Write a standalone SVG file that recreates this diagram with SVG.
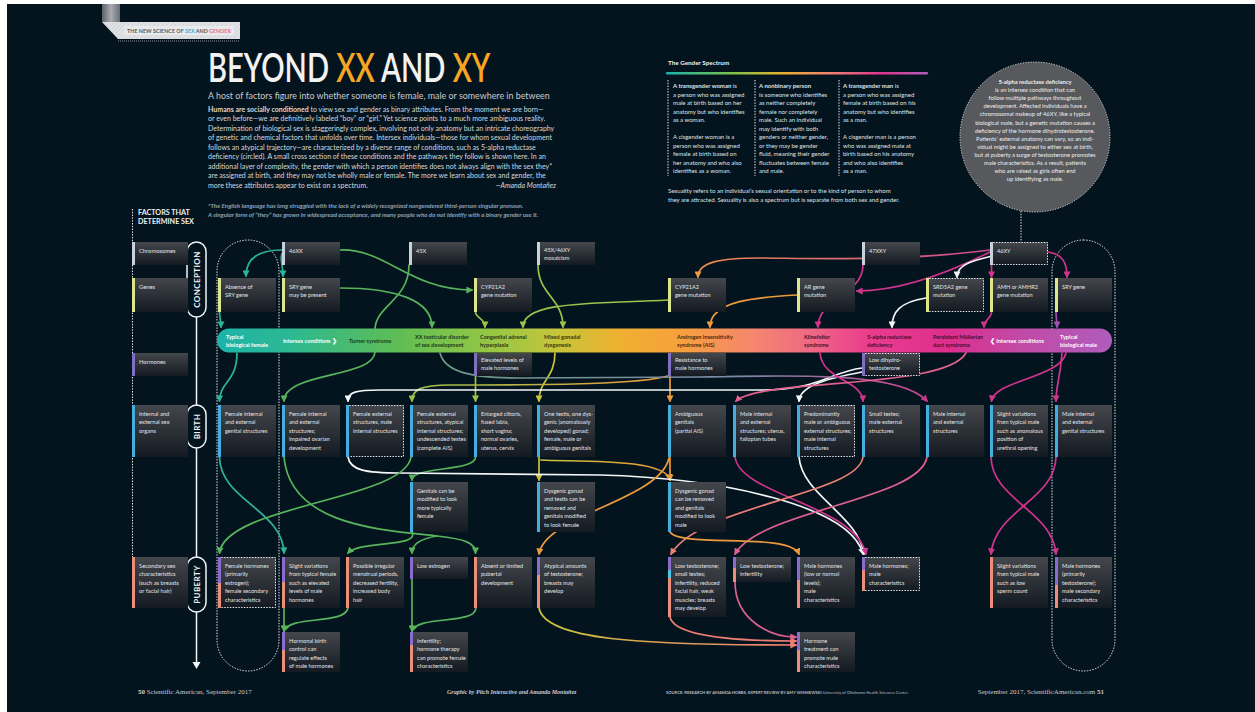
<svg xmlns="http://www.w3.org/2000/svg" width="1255" height="712" viewBox="0 0 1255 712">
<defs>
<linearGradient id="boxg" x1="0" y1="0" x2="0" y2="1"><stop offset="0" stop-color="#44474c"/><stop offset="1" stop-color="#141a22"/></linearGradient>
<linearGradient id="tabg" x1="0" y1="0" x2="1" y2="0"><stop offset="0" stop-color="#5d6168"/><stop offset="0.5" stop-color="#a9adb3"/><stop offset="1" stop-color="#6a6e75"/></linearGradient>
<linearGradient id="spec" x1="217" y1="0" x2="1112" y2="0" gradientUnits="userSpaceOnUse">
<stop offset="0" stop-color="#1db3aa"/><stop offset="0.08" stop-color="#2cb893"/><stop offset="0.2" stop-color="#5ebd55"/><stop offset="0.3" stop-color="#92c645"/><stop offset="0.38" stop-color="#c6c53a"/><stop offset="0.45" stop-color="#efb030"/><stop offset="0.52" stop-color="#f7a03e"/><stop offset="0.6" stop-color="#f4866e"/><stop offset="0.66" stop-color="#ef6a84"/><stop offset="0.73" stop-color="#ea3c8c"/><stop offset="0.82" stop-color="#dc2f8e"/><stop offset="0.9" stop-color="#c04ba6"/><stop offset="1" stop-color="#b05cbc"/>
</linearGradient>
<linearGradient id="rain" x1="666" y1="0" x2="928" y2="0" gradientUnits="userSpaceOnUse">
<stop offset="0" stop-color="#1db3aa"/><stop offset="0.25" stop-color="#7cc24a"/><stop offset="0.45" stop-color="#efb030"/><stop offset="0.65" stop-color="#f07a78"/><stop offset="0.82" stop-color="#e0358c"/><stop offset="1" stop-color="#b05cbc"/>
</linearGradient>
<linearGradient id="gAIS" x1="668" y1="0" x2="412" y2="0" gradientUnits="userSpaceOnUse"><stop offset="0" stop-color="#eb9a3c"/><stop offset="1" stop-color="#98c44a"/></linearGradient>
<linearGradient id="gMix" x1="541" y1="0" x2="670" y2="0" gradientUnits="userSpaceOnUse"><stop offset="0" stop-color="#c9c43a"/><stop offset="1" stop-color="#eb9a3c"/></linearGradient>
<linearGradient id="gXY" x1="990" y1="0" x2="698" y2="0" gradientUnits="userSpaceOnUse"><stop offset="0" stop-color="#c94a92"/><stop offset="1" stop-color="#eb8a50"/></linearGradient>
<linearGradient id="gXX" x1="440" y1="0" x2="927" y2="0" gradientUnits="userSpaceOnUse"><stop offset="0" stop-color="#6f9a86"/><stop offset="0.6" stop-color="#7b8aa6"/><stop offset="1" stop-color="#c8438e"/></linearGradient>
<linearGradient id="gAty" x1="539" y1="0" x2="796" y2="0" gradientUnits="userSpaceOnUse"><stop offset="0" stop-color="#c9c43a"/><stop offset="1" stop-color="#ee7f74"/></linearGradient>
<pattern id="hatch" width="3" height="3" patternUnits="userSpaceOnUse" patternTransform="rotate(45)"><rect width="3" height="3" fill="#e2e3e6"/><line x1="0" y1="0" x2="0" y2="3" stroke="#c4c6ca" stroke-width="1"/></pattern>
<marker id="aT" viewBox="0 0 10 10" refX="8" refY="5" markerWidth="7" markerHeight="7" markerUnits="userSpaceOnUse" orient="auto"><path d="M0,0L10,5L0,10z" fill="#2eb39c"/></marker>
<marker id="aG" viewBox="0 0 10 10" refX="8" refY="5" markerWidth="7" markerHeight="7" markerUnits="userSpaceOnUse" orient="auto"><path d="M0,0L10,5L0,10z" fill="#58b45c"/></marker>
<marker id="aL" viewBox="0 0 10 10" refX="8" refY="5" markerWidth="7" markerHeight="7" markerUnits="userSpaceOnUse" orient="auto"><path d="M0,0L10,5L0,10z" fill="#98c44a"/></marker>
<marker id="aY" viewBox="0 0 10 10" refX="8" refY="5" markerWidth="7" markerHeight="7" markerUnits="userSpaceOnUse" orient="auto"><path d="M0,0L10,5L0,10z" fill="#c9c43a"/></marker>
<marker id="aO" viewBox="0 0 10 10" refX="8" refY="5" markerWidth="7" markerHeight="7" markerUnits="userSpaceOnUse" orient="auto"><path d="M0,0L10,5L0,10z" fill="#eb9a3c"/></marker>
<marker id="aS" viewBox="0 0 10 10" refX="8" refY="5" markerWidth="7" markerHeight="7" markerUnits="userSpaceOnUse" orient="auto"><path d="M0,0L10,5L0,10z" fill="#ee7f74"/></marker>
<marker id="aP" viewBox="0 0 10 10" refX="8" refY="5" markerWidth="7" markerHeight="7" markerUnits="userSpaceOnUse" orient="auto"><path d="M0,0L10,5L0,10z" fill="#e0608e"/></marker>
<marker id="aM" viewBox="0 0 10 10" refX="8" refY="5" markerWidth="7" markerHeight="7" markerUnits="userSpaceOnUse" orient="auto"><path d="M0,0L10,5L0,10z" fill="#d0348c"/></marker>
<marker id="aV" viewBox="0 0 10 10" refX="8" refY="5" markerWidth="7" markerHeight="7" markerUnits="userSpaceOnUse" orient="auto"><path d="M0,0L10,5L0,10z" fill="#a24fb0"/></marker>
<marker id="aW" viewBox="0 0 10 10" refX="8" refY="5" markerWidth="7" markerHeight="7" markerUnits="userSpaceOnUse" orient="auto"><path d="M0,0L10,5L0,10z" fill="#f4f6f8"/></marker>
</defs>
<style>
.f{font-family:Lato,'Open Sans','Liberation Sans',sans-serif}
.t{font-family:Lato,'Open Sans','Liberation Sans',sans-serif;font-size:5.6px;fill:#e2e4e6}
.lb{font-family:Lato,'Open Sans','Liberation Sans',sans-serif;font-size:5.8px;fill:#e2e4e6}
.bt{font-family:Lato,'Open Sans','Liberation Sans',sans-serif;font-size:5.6px;font-weight:700}
.bx{fill:url(#boxg)}
.dot{fill:none;stroke:#e8eef2;stroke-width:1;stroke-dasharray:1.4 1.4}
.bc{fill:#c9d1de}.bg{fill:#dde68a}.bh{fill:#7f70c2}.bo{fill:#45aee0}.bs{fill:#ec8f78}.bp{fill:#8a6ccc}.by{fill:#4cc3e0}
.c{fill:none;stroke-width:1.7;stroke-linecap:round}
.teal{stroke:#2eb39c}.grn{stroke:#58b45c}.lim{stroke:#98c44a}.yel{stroke:#c9c43a}.org{stroke:#eb9a3c}.sal{stroke:#ee7f74}.pnk{stroke:#e0608e}.mag{stroke:#d0348c}.pur{stroke:#a24fb0}.wht{stroke:#f4f6f8}
.gs{font-family:Lato,'Open Sans','Liberation Sans',sans-serif;font-size:6px;fill:#dfe3e6}
.ct{font-family:Lato,'Open Sans','Liberation Sans',sans-serif;font-size:5.75px;fill:#eeeeee;text-anchor:middle}
.cap{fill:#04141f;stroke:#f2f4f6;stroke-width:1.5}
.capt{font-family:Lato,'Open Sans','Liberation Sans',sans-serif;font-size:8px;font-weight:700;fill:#f2f4f6;text-anchor:middle;letter-spacing:0.4px}
</style>
<rect x="0" y="0" width="1255" height="712" fill="#ffffff"/>
<rect x="7" y="4" width="1248" height="708" fill="#04141f"/>

<g id="header">
<rect x="102" y="4" width="18" height="18" fill="url(#tabg)"/>
<polygon points="102,22 240,22 240,39 118,39" fill="url(#hatch)"/>
<line x1="118" y1="41" x2="240" y2="41" stroke="#8a8e94" stroke-width="1" stroke-dasharray="1 1"/>
<rect x="124" y="26" width="110" height="9" fill="#e8e9eb"/>
<text class="f" x="127" y="32.8" font-size="5.4" font-weight="700" fill="#555a60">THE NEW SCIENCE OF <tspan fill="#3ab0d8">SEX</tspan> AND <tspan fill="#e86a8a">GENDER</tspan></text>
<text class="f" transform="translate(208,82) scale(0.71,1)" font-size="41" font-weight="600" fill="#f2f2f2">BEYOND <tspan fill="#f6a623">XX</tspan> AND <tspan fill="#f6a623">XY</tspan></text>
<text class="f" x="208" y="99" font-size="8.9" fill="#c8ccd0">A host of factors figure into whether someone is female, male or somewhere in between</text>
<g class="f" font-size="7" fill="#d6dade">
<text x="208" y="111.5"><tspan font-weight="700">Humans are socially conditioned</tspan> to view sex and gender as binary attributes. From the moment we are born—</text>
<text x="208" y="121">or even before—we are definitively labeled “boy” or “girl.” Yet science points to a much more ambiguous reality.</text>
<text x="208" y="130.5">Determination of biological sex is staggeringly complex, involving not only anatomy but an intricate choreography</text>
<text x="208" y="140">of genetic and chemical factors that unfolds over time. Intersex individuals—those for whom sexual development</text>
<text x="208" y="149.5">follows an atypical trajectory—are characterized by a diverse range of conditions, such as 5-alpha reductase</text>
<text x="208" y="159">deficiency (circled). A small cross section of these conditions and the pathways they follow is shown here. In an</text>
<text x="208" y="168.5">additional layer of complexity, the gender with which a person identifies does not always align with the sex they*</text>
<text x="208" y="178">are assigned at birth, and they may not be wholly male or female. The more we learn about sex and gender, the</text>
<text x="208" y="187.5">more these attributes appear to exist on a spectrum.</text>
<text x="556" y="187.5" text-anchor="end" font-style="italic">—Amanda Montañez</text>
</g>
<g class="f" font-size="6.2" font-style="italic" font-weight="700" fill="#8fa2b4">
<text x="208" y="207.5">*The English language has long struggled with the lack of a widely recognized nongendered third-person singular pronoun.</text>
<text x="208" y="216.5">A singular form of “they” has grown in widespread acceptance, and many people who do not identify with a binary gender use it.</text>
</g>
</g>

<g id="gender-spectrum">
<text class="f" x="668" y="65" font-size="6.3" font-weight="700" fill="#eef0f2">The Gender Spectrum</text>
<rect x="666" y="72" width="262" height="2.6" rx="1.3" fill="url(#rain)"/>
<line class="dot" x1="668" y1="80" x2="668" y2="176"/>
<line class="dot" x1="755" y1="80" x2="755" y2="176"/>
<line class="dot" x1="839" y1="80" x2="839" y2="176"/>
<text class="gs"><tspan x="673" y="88"><tspan font-weight="700">A transgender woman</tspan> is</tspan><tspan x="673" y="96.5">a person who was assigned</tspan><tspan x="673" y="105">male at birth based on her</tspan><tspan x="673" y="113.5">anatomy but who identifies</tspan><tspan x="673" y="122">as a woman.</tspan><tspan x="673" y="139">A cisgender woman is a</tspan><tspan x="673" y="147.5">person who was assigned</tspan><tspan x="673" y="156">female at birth based on</tspan><tspan x="673" y="164.5">her anatomy and who also</tspan><tspan x="673" y="173">identifies as a woman.</tspan></text>
<text class="gs"><tspan x="759" y="88" font-weight="700">A nonbinary person</tspan><tspan x="759" y="96.5">is someone who identifies</tspan><tspan x="759" y="105">as neither completely</tspan><tspan x="759" y="113.5">female nor completely</tspan><tspan x="759" y="122">male. Such an individual</tspan><tspan x="759" y="130.5">may identify with both</tspan><tspan x="759" y="139">genders or neither gender,</tspan><tspan x="759" y="147.5">or they may be gender</tspan><tspan x="759" y="156">fluid, meaning their gender</tspan><tspan x="759" y="164.5">fluctuates between female</tspan><tspan x="759" y="173">and male.</tspan></text>
<text class="gs"><tspan x="843" y="88"><tspan font-weight="700">A transgender man</tspan> is</tspan><tspan x="843" y="96.5">a person who was assigned</tspan><tspan x="843" y="105">female at birth based on his</tspan><tspan x="843" y="113.5">anatomy but who identifies</tspan><tspan x="843" y="122">as a man.</tspan><tspan x="843" y="139">A cisgender man is a person</tspan><tspan x="843" y="147.5">who was assigned male at</tspan><tspan x="843" y="156">birth based on his anatomy</tspan><tspan x="843" y="164.5">and who also identifies</tspan><tspan x="843" y="173">as a man.</tspan></text>
<text class="gs"><tspan x="668" y="193">Sexuality refers to an individual’s sexual orientation or to the kind of person to whom</tspan><tspan x="668" y="201.5">they are attracted. Sexuality is also a spectrum but is separate from both sex and gender.</tspan></text>
</g>

<g id="callout-5ard">
<line class="dot" x1="1021" y1="211" x2="1021" y2="242"/>
<circle cx="1035" cy="137" r="75" fill="#58595c" stroke="#d8dcdf" stroke-width="1" stroke-dasharray="1.2 1.4"/>
<text class="ct"><tspan x="1035" y="84" font-weight="700">5-alpha reductase deficiency</tspan><tspan x="1035" y="92.1">is an intersex condition that can</tspan><tspan x="1035" y="100.2">follow multiple pathways throughout</tspan><tspan x="1035" y="108.3">development. Affected individuals have a</tspan><tspan x="1035" y="116.4">chromosomal makeup of 46XY, like a typical</tspan><tspan x="1035" y="124.5">biological male, but a genetic mutation causes a</tspan><tspan x="1035" y="132.6">deficiency of the hormone dihydrotestosterone.</tspan><tspan x="1035" y="140.7">Patients’ external anatomy can vary, so an indi-</tspan><tspan x="1035" y="148.8">vidual might be assigned to either sex at birth,</tspan><tspan x="1035" y="156.9">but at puberty a surge of testosterone promotes</tspan><tspan x="1035" y="165">male characteristics. As a result, patients</tspan><tspan x="1035" y="173.1">who are raised as girls often end</tspan><tspan x="1035" y="181.2">up identifying as male.</tspan></text>
</g>

<g id="axis">
<line class="dot" x1="132.5" y1="209" x2="132.5" y2="557"/>
<text class="f" font-size="7.2" font-weight="700" fill="#eef0f2"><tspan x="138" y="215">FACTORS THAT</tspan><tspan x="138" y="224">DETERMINE SEX</tspan></text>
<g stroke="#f2f4f6" stroke-width="1.5"><line x1="196.5" y1="317" x2="196.5" y2="405"/><line x1="196.5" y1="448" x2="196.5" y2="557"/><line x1="196.5" y1="612" x2="196.5" y2="664"/></g>
<path d="M192.5,662 L196.5,669 L200.5,662 z" fill="#f2f4f6"/>
<g id="conception"><rect class="cap" x="187" y="242" width="19" height="75" rx="9.5"/><text class="capt" transform="translate(199.5,279.5) rotate(-90)">CONCEPTION</text></g>
<g id="birth"><rect class="cap" x="187" y="405" width="19" height="43" rx="9.5"/><text class="capt" transform="translate(199.5,426.5) rotate(-90)">BIRTH</text></g>
<g id="puberty"><rect class="cap" x="187" y="557" width="19" height="55" rx="9.5"/><text class="capt" transform="translate(199.5,584.5) rotate(-90)">PUBERTY</text></g>
</g>

<g id="row-labels">
<g id="lbl-chrom"><rect class="bx" x="132" y="242" width="56" height="23"/><rect class="bc" x="132" y="242" width="3" height="23"/><text class="lb" x="139" y="253">Chromosomes</text></g>
<g id="lbl-genes"><rect class="bx" x="132" y="278" width="56" height="34"/><rect class="bg" x="132" y="278" width="3" height="34"/><text class="lb" x="139" y="289">Genes</text></g>
<g id="lbl-horm"><rect class="bx" x="132" y="353" width="56" height="23"/><rect class="bh" x="132" y="353" width="3" height="23"/><text class="lb" x="139" y="364">Hormones</text></g>
<g id="lbl-organs"><rect class="bx" x="132" y="405" width="56" height="52"/><rect class="bo" x="132" y="405" width="3" height="52"/><text class="lb"><tspan x="139" y="415.5">Internal and</tspan><tspan x="139" y="424">external sex</tspan><tspan x="139" y="432.5">organs</tspan></text></g>
<g id="lbl-secondary"><rect class="bx" x="132" y="557" width="56" height="51"/><rect class="bs" x="132" y="557" width="3" height="51"/><text class="lb"><tspan x="139" y="567.5">Secondary sex</tspan><tspan x="139" y="576">characteristics</tspan><tspan x="139" y="584.5">(such as breasts</tspan><tspan x="139" y="593">or facial hair)</tspan></text></g>
</g>

<g id="typical-regions">
<rect class="dot" x="217" y="240" width="62" height="431" rx="31" stroke="#cfe3ea"/>
<rect class="dot" x="1052" y="240" width="63" height="431" rx="31.5" stroke="#cfe3ea"/>
</g>

<g id="spectrum-bar">
<rect x="217" y="328.5" width="895" height="24" rx="12" fill="url(#spec)"/>
<g class="bt">
<text fill="#ffffff"><tspan x="226" y="338.5">Typical</tspan><tspan x="226" y="346.5">biological female</tspan></text>
<text fill="#ffffff" x="283" y="343">Intersex conditions ❯</text>
<text fill="#1d3a22" x="349" y="343">Turner syndrome</text>
<text fill="#1d3a22"><tspan x="415" y="338.5">XX testicular disorder</tspan><tspan x="415" y="346.5">of sex development</tspan></text>
<text fill="#24381a"><tspan x="480" y="338.5">Congenital adrenal</tspan><tspan x="480" y="346.5">hyperplasia</tspan></text>
<text fill="#3a3512"><tspan x="544" y="338.5">Mixed gonadal</tspan><tspan x="544" y="346.5">dysgenesis</tspan></text>
<text fill="#4a2a10"><tspan x="677" y="338.5">Androgen insensitivity</tspan><tspan x="677" y="346.5">syndrome (AIS)</tspan></text>
<text fill="#4a1024"><tspan x="804" y="338.5">Klinefelter</tspan><tspan x="804" y="346.5">syndrome</tspan></text>
<text fill="#4a0c28"><tspan x="867" y="338.5">5-alpha reductase</tspan><tspan x="867" y="346.5">deficiency</tspan></text>
<text fill="#4a0c30"><tspan x="933" y="338.5">Persistent Müllerian</tspan><tspan x="933" y="346.5">duct syndrome</tspan></text>
<text fill="#ffffff" x="990" y="343">❮ Intersex conditions</text>
<text fill="#ffffff"><tspan x="1060" y="338.5">Typical</tspan><tspan x="1060" y="346.5">biological male</tspan></text>
</g>
</g>

<g id="connectors">
<path class="c teal" d="M282,250 C262,250 246,256 246,276" marker-end="url(#aT)"/>
<path class="c teal" d="M283,252 C279,258 283,264 283,276" marker-end="url(#aT)"/>
<path class="c grn" d="M340,250 C385,248 410,290 472,290" marker-end="url(#aG)"/>
<path class="c grn" d="M340,288 C395,288 432,300 432,327" marker-end="url(#aG)"/>
<path class="c grn" d="M409,265 C409,300 376,305 375,329"/>
<path class="c grn" d="M375,352 C374,378 284,372 284,401" marker-end="url(#aG)"/>
<path class="c teal" d="M219.5,312 C219.5,318 221,320 221,327" marker-end="url(#aT)"/>
<path class="c teal" d="M237,353 C237,382 219.5,382 219.5,401" marker-end="url(#aT)"/>
<path class="c lim" d="M538,265 C538,295 563,298 563,327" marker-end="url(#aL)"/>
<path class="c lim" d="M475.5,312 C475.5,318 485,318 485,327" marker-end="url(#aL)"/>
<path class="c lim" d="M668,300 C600,304 523,300 523,327" marker-end="url(#aL)"/>
<path class="c lim" d="M475.5,376 L475.5,401" marker-end="url(#aL)"/>
<path class="c yel" d="M555,353 C555,378 539,380 539,401" marker-end="url(#aY)"/>
<path class="c" stroke="url(#gAIS)" d="M668,376 C640,384 560,385 450,385 C420,385 412,390 412,401" marker-end="url(#aL)"/>
<path class="c org" d="M670,376 L670,401" marker-end="url(#aO)"/>
<path class="c wht" d="M862,368 C830,372 820,390 760,390 L380,390 C356,390 348,392 348,401" marker-end="url(#aW)"/>
<path class="c wht" d="M862,372 C830,378 800,385 799,401" marker-end="url(#aW)"/>
<path class="c" stroke="url(#gXX)" stroke-width="1.3" d="M440,353 C445,372 470,378 520,378 L700,377 C800,375 900,372 927,401" marker-end="url(#aM)"/>
<path class="c grn" d="M475.5,457 C475.5,472 412,466 412,480" marker-end="url(#aG)"/>
<path class="c yel" d="M539,457 L539,480" marker-end="url(#aY)"/>
<path class="c" stroke="url(#gMix)" d="M541,460 C580,462 665,458 670,480" marker-end="url(#aO)"/>
<path class="c org" d="M670,457 L670,480" marker-end="url(#aO)"/>
<path class="c wht" stroke-width="1.4" d="M348,457 C350,470 365,473 400,473 L600,475 C720,478 850,505 863,554" marker-end="url(#aW)"/>
<path class="c wht" d="M799,457 C802,495 858,515 864,554" marker-end="url(#aW)"/>
<path class="c mag" d="M735,457 C740,495 855,505 866,554" marker-end="url(#aM)"/>
<path class="c org" d="M669,458 C660,500 545,515 539,554" marker-end="url(#aO)"/>
<path class="c sal" stroke-width="1.3" d="M863,457 C858,495 700,505 671,554" marker-end="url(#aS)"/>
<path class="c pnk" stroke-width="1.3" d="M927,457 C920,500 760,510 735,554" marker-end="url(#aP)"/>
<path class="c org" d="M670,532 C680,548 790,532 799,554" marker-end="url(#aO)"/>
<path class="c mag" d="M991,457 C992,500 1052,510 1056,554" marker-end="url(#aM)"/>
<path class="c mag" d="M1056,457 C1055,500 995,510 991,554" marker-end="url(#aM)"/>
<path class="c teal" d="M219.5,457 C220,500 283,510 284,553" marker-end="url(#aT)"/>
<path class="c grn" d="M411,457 C405,500 225,505 219.5,553" marker-end="url(#aG)"/>
<path class="c grn" d="M284,457 C290,525 380,530 437,536 C465,539 475.5,543 475.5,553" marker-end="url(#aG)"/>
<path class="c grn" d="M437,536 C418,539 412,545 412,553" marker-end="url(#aG)"/>
<path class="c grn" d="M412,532 C420,548 360,540 348,553" marker-end="url(#aG)"/>
<path class="c grn" d="M284,608 L284,631" marker-end="url(#aG)"/>
<path class="c grn" d="M348,608 C345,625 290,615 284,631" marker-end="url(#aG)"/>
<path class="c grn" d="M412,579 L412,631" marker-end="url(#aG)"/>
<path class="c grn" d="M476,608 C475,625 418,615 412,631" marker-end="url(#aG)"/>
<path class="c sal" d="M670,617 C675,640 760,641 796,641" marker-end="url(#aS)"/>
<path class="c pnk" d="M735,582 C735,620 770,637 796,637" marker-end="url(#aP)"/>
<path class="c" stroke="url(#gAty)" d="M539,608 C545,640 640,645 796,645" marker-end="url(#aS)"/>
<path class="c" stroke="url(#gXY)" d="M990,250 C900,262 800,258 760,258 C720,258 698,262 698,277" marker-end="url(#aO)"/>
<path class="c mag" d="M990,252 C950,272 900,291 857,291" marker-end="url(#aM)"/>
<path class="c wht" d="M992,256 C975,260 957,264 957,277" marker-end="url(#aW)"/>
<path class="c mag" d="M991.5,265 L991.5,277" marker-end="url(#aM)"/>
<path class="c mag" d="M1048,252 C1062,254 1067,262 1067,277" marker-end="url(#aM)"/>
<path class="c mag" d="M863,265 C863,295 818,298 818,327" marker-end="url(#aM)"/>
<path class="c org" d="M797,295 C760,297 710,300 710,327" marker-end="url(#aO)"/>
<path class="c wht" d="M926,298 C900,302 892,312 892,327" marker-end="url(#aW)"/>
<path class="c mag" d="M991.5,312 C991.5,318 984,320 984,327" marker-end="url(#aM)"/>
<path class="c pur" d="M1056,312 C1056,318 1057,320 1057,327" marker-end="url(#aV)"/>
<path class="c mag" d="M820,353 C822,380 862,380 863,401" marker-end="url(#aM)"/>
<path class="c pnk" d="M966,353 C945,390 760,378 736,401" marker-end="url(#aP)"/>
<path class="c mag" d="M1066,353 C1060,378 995,380 991.5,401" marker-end="url(#aM)"/>
<path class="c mag" d="M1062,353 C1060,380 1056,385 1056,401" marker-end="url(#aM)"/>
</g>

<g id="n-46xx"><rect class="bx" x="282" y="242" width="58" height="23"/><rect class="bc" x="282" y="242" width="3" height="23"/><text class="t" x="289" y="253">46XX</text></g>
<g id="n-45x"><rect class="bx" x="409" y="242" width="58" height="23"/><rect class="bc" x="409" y="242" width="3" height="23"/><text class="t" x="416" y="253">45X</text></g>
<g id="n-mosaic"><rect class="bx" x="537" y="242" width="58" height="23"/><rect class="bc" x="537" y="242" width="3" height="23"/><text class="t"><tspan x="544" y="251.5">45X/46XY</tspan><tspan x="544" y="259.5">mosaicism</tspan></text></g>
<g id="n-47xxy"><rect class="bx" x="862" y="242" width="58" height="23"/><rect class="bc" x="862" y="242" width="3" height="23"/><text class="t" x="869" y="253">47XXY</text></g>
<g id="n-46xy"><rect class="bx" x="990" y="242" width="58" height="23"/><rect class="dot" x="990.5" y="242.5" width="57" height="22"/><rect class="bc" x="990" y="242" width="3" height="23"/><text class="t" x="997" y="253">46XY</text></g>

<g id="n-absence-sry"><rect class="bx" x="218" y="278" width="58" height="34"/><rect class="bg" x="218" y="278" width="3" height="34"/><text class="t"><tspan x="225" y="288.5">Absence of</tspan><tspan x="225" y="297">SRY gene</tspan></text></g>
<g id="n-sry-may"><rect class="bx" x="282" y="278" width="58" height="34"/><rect class="bg" x="282" y="278" width="3" height="34"/><text class="t"><tspan x="289" y="288.5">SRY gene</tspan><tspan x="289" y="297">may be present</tspan></text></g>
<g id="n-cyp1"><rect class="bx" x="474" y="278" width="58" height="34"/><rect class="bg" x="474" y="278" width="3" height="34"/><text class="t"><tspan x="481" y="288.5">CYP21A2</tspan><tspan x="481" y="297">gene mutation</tspan></text></g>
<g id="n-cyp2"><rect class="bx" x="668" y="278" width="58" height="34"/><rect class="bg" x="668" y="278" width="3" height="34"/><text class="t"><tspan x="675" y="288.5">CYP21A2</tspan><tspan x="675" y="297">gene mutation</tspan></text></g>
<g id="n-ar"><rect class="bx" x="797" y="278" width="58" height="34"/><rect class="bg" x="797" y="278" width="3" height="34"/><text class="t"><tspan x="804" y="288.5">AR gene</tspan><tspan x="804" y="297">mutation</tspan></text></g>
<g id="n-srd5a2"><rect class="bx" x="926" y="278" width="58" height="34"/><rect class="dot" x="926.5" y="278.5" width="57" height="33"/><rect class="bg" x="926" y="278" width="3" height="34"/><text class="t"><tspan x="933" y="288.5">SRD5A2 gene</tspan><tspan x="933" y="297">mutation</tspan></text></g>
<g id="n-amh"><rect class="bx" x="990" y="278" width="58" height="34"/><rect class="bg" x="990" y="278" width="3" height="34"/><text class="t"><tspan x="997" y="288.5">AMH or AMHR2</tspan><tspan x="997" y="297">gene mutation</tspan></text></g>
<g id="n-sry-male"><rect class="bx" x="1055" y="278" width="57" height="34"/><rect class="bg" x="1055" y="278" width="3" height="34"/><text class="t" x="1062" y="288.5">SRY gene</text></g>

<g id="n-elevated"><rect class="bx" x="474" y="353" width="58" height="23"/><rect class="bh" x="474" y="353" width="3" height="23"/><text class="t"><tspan x="481" y="362">Elevated levels of</tspan><tspan x="481" y="370">male hormones</tspan></text></g>
<g id="n-resistance"><rect class="bx" x="668" y="353" width="58" height="23"/><rect class="bh" x="668" y="353" width="3" height="23"/><text class="t"><tspan x="675" y="362">Resistance to</tspan><tspan x="675" y="370">male hormones</tspan></text></g>
<g id="n-low-dht"><rect class="bx" x="862" y="353" width="58" height="23"/><rect class="dot" x="862.5" y="353.5" width="57" height="22"/><rect class="bh" x="862" y="353" width="3" height="23"/><text class="t"><tspan x="869" y="362">Low dihydro-</tspan><tspan x="869" y="370">testosterone</tspan></text></g>

<g id="o-fem-typical"><rect class="bx" x="218" y="405" width="58" height="52"/><rect class="bo" x="218" y="405" width="3" height="52"/><text class="t"><tspan x="225" y="415.5">Female internal</tspan><tspan x="225" y="424">and external</tspan><tspan x="225" y="432.5">genital structures</tspan></text></g>
<g id="o-fem-impaired"><rect class="bx" x="282" y="405" width="58" height="52"/><rect class="bo" x="282" y="405" width="3" height="52"/><text class="t"><tspan x="289" y="415.5">Female internal</tspan><tspan x="289" y="424">and external</tspan><tspan x="289" y="432.5">structures;</tspan><tspan x="289" y="441">impaired ovarian</tspan><tspan x="289" y="449.5">development</tspan></text></g>
<g id="o-fem-ext-male-int"><rect class="bx" x="346" y="405" width="58" height="52"/><rect class="dot" x="346.5" y="405.5" width="57" height="51"/><rect class="bo" x="346" y="405" width="3" height="52"/><text class="t"><tspan x="353" y="415.5">Female external</tspan><tspan x="353" y="424">structures, male</tspan><tspan x="353" y="432.5">internal structures</tspan></text></g>
<g id="o-complete-ais"><rect class="bx" x="410" y="405" width="58" height="52"/><rect class="bo" x="410" y="405" width="3" height="52"/><text class="t"><tspan x="417" y="415.5">Female external</tspan><tspan x="417" y="424">structures, atypical</tspan><tspan x="417" y="432.5">internal structures;</tspan><tspan x="417" y="441">undescended testes</tspan><tspan x="417" y="449.5">(complete AIS)</tspan></text></g>
<g id="o-enlarged"><rect class="bx" x="474" y="405" width="58" height="52"/><rect class="bo" x="474" y="405" width="3" height="52"/><text class="t"><tspan x="481" y="415.5">Enlarged clitoris,</tspan><tspan x="481" y="424">fused labia,</tspan><tspan x="481" y="432.5">short vagina;</tspan><tspan x="481" y="441">normal ovaries,</tspan><tspan x="481" y="449.5">uterus, cervix</tspan></text></g>
<g id="o-one-testis"><rect class="bx" x="537" y="405" width="58" height="52"/><rect class="bo" x="537" y="405" width="3" height="52"/><text class="t"><tspan x="544" y="415.5">One testis, one dys-</tspan><tspan x="544" y="424">genic (anomalously</tspan><tspan x="544" y="432.5">developed) gonad;</tspan><tspan x="544" y="441">female, male or</tspan><tspan x="544" y="449.5">ambiguous genitals</tspan></text></g>
<g id="o-ambiguous"><rect class="bx" x="668" y="405" width="58" height="52"/><rect class="bo" x="668" y="405" width="3" height="52"/><text class="t"><tspan x="675" y="415.5">Ambiguous</tspan><tspan x="675" y="424">genitals</tspan><tspan x="675" y="432.5">(partial AIS)</tspan></text></g>
<g id="o-male-uterus"><rect class="bx" x="733" y="405" width="58" height="52"/><rect class="bo" x="733" y="405" width="3" height="52"/><text class="t"><tspan x="740" y="415.5">Male internal</tspan><tspan x="740" y="424">and external</tspan><tspan x="740" y="432.5">structures; uterus,</tspan><tspan x="740" y="441">fallopian tubes</tspan></text></g>
<g id="o-predominantly"><rect class="bx" x="797" y="405" width="58" height="52"/><rect class="dot" x="797.5" y="405.5" width="57" height="51"/><rect class="bo" x="797" y="405" width="3" height="52"/><text class="t"><tspan x="804" y="415.5">Predominantly</tspan><tspan x="804" y="424">male or ambiguous</tspan><tspan x="804" y="432.5">external structures;</tspan><tspan x="804" y="441">male internal</tspan><tspan x="804" y="449.5">structures</tspan></text></g>
<g id="o-small-testes"><rect class="bx" x="862" y="405" width="58" height="52"/><rect class="bo" x="862" y="405" width="3" height="52"/><text class="t"><tspan x="869" y="415.5">Small testes;</tspan><tspan x="869" y="424">male external</tspan><tspan x="869" y="432.5">structures</tspan></text></g>
<g id="o-male-int-ext"><rect class="bx" x="926" y="405" width="58" height="52"/><rect class="bo" x="926" y="405" width="3" height="52"/><text class="t"><tspan x="933" y="415.5">Male internal</tspan><tspan x="933" y="424">and external</tspan><tspan x="933" y="432.5">structures</tspan></text></g>
<g id="o-slight-male"><rect class="bx" x="990" y="405" width="58" height="52"/><rect class="bo" x="990" y="405" width="3" height="52"/><text class="t"><tspan x="997" y="415.5">Slight variations</tspan><tspan x="997" y="424">from typical male</tspan><tspan x="997" y="432.5">such as anomalous</tspan><tspan x="997" y="441">position of</tspan><tspan x="997" y="449.5">urethral opening</tspan></text></g>
<g id="o-male-typical"><rect class="bx" x="1055" y="405" width="57" height="52"/><rect class="bo" x="1055" y="405" width="3" height="52"/><text class="t"><tspan x="1062" y="415.5">Male internal</tspan><tspan x="1062" y="424">and external</tspan><tspan x="1062" y="432.5">genital structures</tspan></text></g>

<g id="m-genitals-female"><rect class="bx" x="410" y="482" width="58" height="50"/><rect class="bo" x="410" y="482" width="3" height="50"/><text class="t"><tspan x="417" y="492.5">Genitals can be</tspan><tspan x="417" y="501">modified to look</tspan><tspan x="417" y="509.5">more typically</tspan><tspan x="417" y="518">female</tspan></text></g>
<g id="m-dysgenic-female"><rect class="bx" x="537" y="482" width="58" height="50"/><rect class="bo" x="537" y="482" width="3" height="50"/><text class="t"><tspan x="544" y="492.5">Dysgenic gonad</tspan><tspan x="544" y="501">and testis can be</tspan><tspan x="544" y="509.5">removed and</tspan><tspan x="544" y="518">genitals modified</tspan><tspan x="544" y="526.5">to look female</tspan></text></g>
<g id="m-dysgenic-male"><rect class="bx" x="668" y="482" width="58" height="50"/><rect class="bo" x="668" y="482" width="3" height="50"/><text class="t"><tspan x="675" y="492.5">Dysgenic gonad</tspan><tspan x="675" y="501">can be removed</tspan><tspan x="675" y="509.5">and genitals</tspan><tspan x="675" y="518">modified to look</tspan><tspan x="675" y="526.5">male</tspan></text></g>

<g id="p-female-hormones"><rect class="bx" x="218" y="557" width="58" height="51"/><rect class="dot" x="218.5" y="557.5" width="57" height="50"/><rect class="bp" x="218" y="557" width="3" height="26"/><rect class="bs" x="218" y="583" width="3" height="25"/><text class="t"><tspan x="225" y="567.5">Female hormones</tspan><tspan x="225" y="576">(primarily</tspan><tspan x="225" y="584.5">estrogen);</tspan><tspan x="225" y="593">female secondary</tspan><tspan x="225" y="601.5">characteristics</tspan></text></g>
<g id="p-slight-female"><rect class="bx" x="282" y="557" width="58" height="51"/><rect class="bp" x="282" y="557" width="3" height="25"/><rect class="bs" x="282" y="582" width="3" height="26"/><text class="t"><tspan x="289" y="567.5">Slight variations</tspan><tspan x="289" y="576">from typical female</tspan><tspan x="289" y="584.5">such as elevated</tspan><tspan x="289" y="593">levels of male</tspan><tspan x="289" y="601.5">hormones</tspan></text></g>
<g id="p-irregular"><rect class="bx" x="346" y="557" width="58" height="51"/><rect class="bs" x="346" y="557" width="3" height="51"/><text class="t"><tspan x="353" y="567.5">Possible irregular</tspan><tspan x="353" y="576">menstrual periods,</tspan><tspan x="353" y="584.5">decreased fertility,</tspan><tspan x="353" y="593">increased body</tspan><tspan x="353" y="601.5">hair</tspan></text></g>
<g id="p-low-estrogen"><rect class="bx" x="410" y="557" width="58" height="22"/><rect class="bp" x="410" y="557" width="3" height="22"/><text class="t" x="417" y="567.5">Low estrogen</text></g>
<g id="p-absent"><rect class="bx" x="474" y="557" width="58" height="51"/><rect class="bs" x="474" y="557" width="3" height="51"/><text class="t"><tspan x="481" y="567.5">Absent or limited</tspan><tspan x="481" y="576">pubertal</tspan><tspan x="481" y="584.5">development</tspan></text></g>
<g id="p-atypical"><rect class="bx" x="537" y="557" width="58" height="51"/><rect class="bp" x="537" y="557" width="3" height="18"/><rect class="bs" x="537" y="575" width="3" height="33"/><text class="t"><tspan x="544" y="567.5">Atypical amounts</tspan><tspan x="544" y="576">of testosterone;</tspan><tspan x="544" y="584.5">breasts may</tspan><tspan x="544" y="593">develop</tspan></text></g>
<g id="p-lowt-small"><rect class="bx" x="668" y="557" width="58" height="60"/><rect class="bp" x="668" y="557" width="3" height="13"/><rect class="by" x="668" y="570" width="3" height="8"/><rect class="bs" x="668" y="578" width="3" height="39"/><text class="t"><tspan x="675" y="567.5">Low testosterone;</tspan><tspan x="675" y="576">small testes;</tspan><tspan x="675" y="584.5">infertility, reduced</tspan><tspan x="675" y="593">facial hair, weak</tspan><tspan x="675" y="601.5">muscles; breasts</tspan><tspan x="675" y="610">may develop</tspan></text></g>
<g id="p-lowt-infert"><rect class="bx" x="733" y="557" width="58" height="25"/><rect class="bp" x="733" y="557" width="3" height="11"/><rect class="bs" x="733" y="568" width="3" height="14"/><text class="t"><tspan x="740" y="567.5">Low testosterone;</tspan><tspan x="740" y="576">infertility</tspan></text></g>
<g id="p-male-low-normal"><rect class="bx" x="797" y="557" width="58" height="51"/><rect class="bp" x="797" y="557" width="3" height="23"/><rect class="bs" x="797" y="580" width="3" height="28"/><text class="t"><tspan x="804" y="567.5">Male hormones</tspan><tspan x="804" y="576">(low or normal</tspan><tspan x="804" y="584.5">levels);</tspan><tspan x="804" y="593">male</tspan><tspan x="804" y="601.5">characteristics</tspan></text></g>
<g id="p-male-char"><rect class="bx" x="862" y="557" width="58" height="34"/><rect class="dot" x="862.5" y="557.5" width="57" height="33"/><rect class="bp" x="862" y="557" width="3" height="13"/><rect class="bs" x="862" y="570" width="3" height="21"/><text class="t"><tspan x="869" y="567.5">Male hormones;</tspan><tspan x="869" y="576">male</tspan><tspan x="869" y="584.5">characteristics</tspan></text></g>
<g id="p-slight-male"><rect class="bx" x="990" y="557" width="58" height="51"/><rect class="bs" x="990" y="557" width="3" height="51"/><text class="t"><tspan x="997" y="567.5">Slight variations</tspan><tspan x="997" y="576">from typical male</tspan><tspan x="997" y="584.5">such as low</tspan><tspan x="997" y="593">sperm count</tspan></text></g>
<g id="p-male-primary"><rect class="bx" x="1055" y="557" width="57" height="51"/><rect class="bp" x="1055" y="557" width="3" height="28"/><rect class="bs" x="1055" y="585" width="3" height="23"/><text class="t"><tspan x="1062" y="567.5">Male hormones</tspan><tspan x="1062" y="576">(primarily</tspan><tspan x="1062" y="584.5">testosterone);</tspan><tspan x="1062" y="593">male secondary</tspan><tspan x="1062" y="601.5">characteristics</tspan></text></g>

<g id="b-birth-control"><rect class="bx" x="282" y="632" width="58" height="40"/><rect class="bp" x="282" y="632" width="3" height="18"/><rect class="bs" x="282" y="650" width="3" height="22"/><text class="t"><tspan x="289" y="642.5">Hormonal birth</tspan><tspan x="289" y="651">control can</tspan><tspan x="289" y="659.5">regulate effects</tspan><tspan x="289" y="668">of male hormones</tspan></text></g>
<g id="b-infertility"><rect class="bx" x="410" y="632" width="58" height="40"/><rect class="bp" x="410" y="632" width="3" height="13"/><rect class="bs" x="410" y="645" width="3" height="27"/><text class="t"><tspan x="417" y="642.5">Infertility;</tspan><tspan x="417" y="651">hormone therapy</tspan><tspan x="417" y="659.5">can promote female</tspan><tspan x="417" y="668">characteristics</tspan></text></g>
<g id="b-hormone-treatment"><rect class="bx" x="797" y="632" width="58" height="40"/><rect class="bp" x="797" y="632" width="3" height="18"/><rect class="bs" x="797" y="650" width="3" height="22"/><text class="t"><tspan x="804" y="642.5">Hormone</tspan><tspan x="804" y="651">treatment can</tspan><tspan x="804" y="659.5">promote male</tspan><tspan x="804" y="668">characteristics</tspan></text></g>

<g id="footer">
<text x="138" y="694" font-family="'Liberation Serif',serif" font-size="7" fill="#c8ccd0"><tspan font-weight="700">50</tspan> Scientific American, September 2017</text>
<text x="447" y="694" font-family="'Liberation Serif',serif" font-size="6" font-style="italic" font-weight="700" fill="#c8ccd0">Graphic by Pitch Interactive and Amanda Montañez</text>
<text x="666" y="694" font-family="Lato,'Liberation Sans',sans-serif" font-size="3.9" fill="#b8bcc0" textLength="242" lengthAdjust="spacingAndGlyphs"><tspan font-weight="700">SOURCE: RESEARCH BY AMANDA HOBBS; EXPERT REVIEW BY AMY WISNIEWSKI</tspan> University of Oklahoma Health Sciences Center</text>
<text x="1104" y="694" text-anchor="end" font-family="'Liberation Serif',serif" font-size="7" fill="#c8ccd0">September 2017, ScientificAmerican.com <tspan font-weight="700">51</tspan></text>
</g>
</svg>
